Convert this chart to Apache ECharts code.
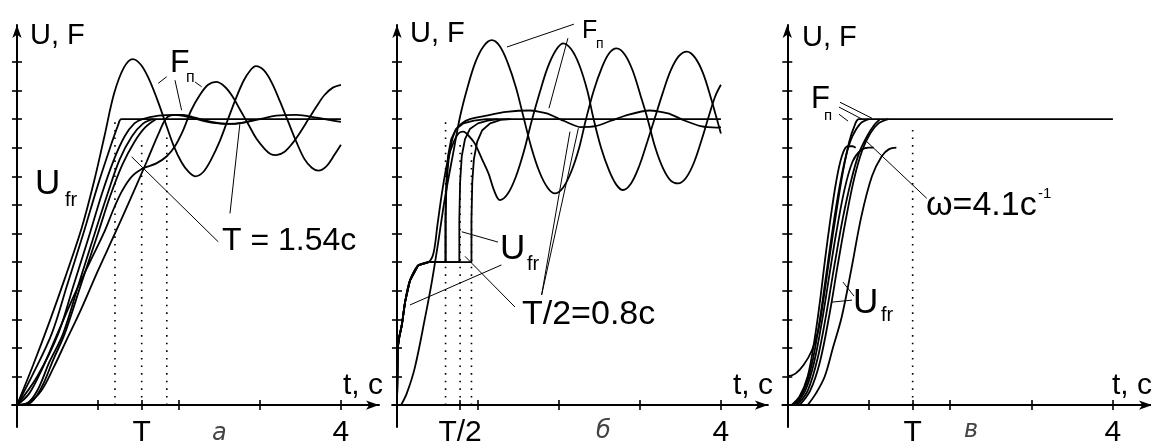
<!DOCTYPE html>
<html><head><meta charset="utf-8">
<script src="https://cdn.jsdelivr.net/npm/echarts@6/dist/echarts.min.js"></script>
<style>html,body{margin:0;padding:0;background:#fff}#c{width:1151px;height:442px}</style>
</head><body><div id="c"></div>
<script>
// ---------- tick / label arrays ----------
const yTicks = [1,2,3,4,5,6,7,8,9,10,11,12];
const xTicksA = [1,1.54,2,3,4];   const xLabValA = [1.54,4]; const xLabTxtA = ['T','4'];
const xTicksB = [0.78,1,2,3,4];   const xLabValB = [0.78,4]; const xLabTxtB = ['T/2','4'];
const xTicksC = [1,1.54,2,3,4];   const xLabValC = [1.54,4]; const xLabTxtC = ['T','4'];

// ---------- panel а ----------
const aF1 = [[0,0],[0.2,1.4],[0.4,2.9],[0.6,4.5],[0.8,6.2],[0.95,7.8],[1.08,9.4],[1.2,10.9],[1.32,11.8],[1.43,12.1],[1.53,11.9],[1.63,11.4],[1.73,10.7],[1.83,9.9],[1.93,9.1],[2.03,8.5],[2.12,8.15],[2.2,8.0],[2.3,8.15],[2.4,8.6],[2.5,9.2],[2.6,9.95],[2.7,10.7],[2.8,11.35],[2.88,11.7],[2.95,11.85],[3.05,11.7],[3.15,11.25],[3.25,10.6],[3.35,9.9],[3.45,9.2],[3.55,8.6],[3.64,8.3],[3.72,8.2],[3.82,8.35],[3.92,8.75],[4.0,9.1]];
const aF2 = [[0,0],[0.15,0.4],[0.3,1.2],[0.5,2.5],[0.7,3.8],[0.9,5.0],[1.07,6.0],[1.2,6.9],[1.3,7.5],[1.42,8.0],[1.56,8.28],[1.72,8.45],[1.85,8.7],[1.95,9.05],[2.05,9.6],[2.15,10.3],[2.26,10.85],[2.36,11.2],[2.46,11.3],[2.56,11.15],[2.66,10.8],[2.76,10.3],[2.86,9.8],[2.96,9.3],[3.06,8.95],[3.13,8.78],[3.2,8.74],[3.3,8.85],[3.4,9.15],[3.5,9.55],[3.6,10.0],[3.7,10.45],[3.8,10.85],[3.9,11.1],[4.0,11.2]];
const aU1 = [[0,0],[0.2,1.1],[0.43,2.5],[0.62,4.2],[0.82,6.0],[1.0,7.7],[1.15,9.0],[1.25,9.8],[1.29,10.0],[4.0,10.0]];
const aU2 = [[0,0],[0.25,1.0],[0.51,2.5],[0.7,4.2],[0.9,6.0],[1.05,7.4],[1.2,8.6],[1.33,9.4],[1.45,9.85],[1.55,10.0],[1.75,10.12],[1.95,10.15],[2.15,10.05],[2.4,9.88],[2.65,9.83],[2.9,9.95]];
const aU3 = [[0,0],[0.12,0.05],[0.25,0.5],[0.4,1.5],[0.57,2.5],[0.77,4.3],[0.96,6.0],[1.12,7.4],[1.27,8.6],[1.42,9.4],[1.56,9.85],[1.68,10.0]];
const aU4 = [[0,0],[0.15,0.05],[0.3,0.6],[0.45,1.6],[0.59,2.5],[0.8,4.3],[1.0,6.0],[1.15,7.3],[1.3,8.4],[1.45,9.2],[1.58,9.7],[1.72,10.0]];
const aU5 = [[0,0],[0.15,0.1],[0.3,0.5],[0.45,1.3],[0.6,2.2],[0.8,3.4],[1.0,4.7],[1.21,6.0],[1.4,7.2],[1.6,8.5],[1.75,9.5],[1.85,10.05],[1.95,10.15],[2.05,10.15],[2.2,10.05],[2.4,9.9],[2.6,9.83],[2.8,9.88],[3.0,10.0],[3.2,10.12],[3.45,10.15],[3.7,10.05],[3.9,9.95],[4.0,9.9]];
const aDots = [[[1.21,0],[1.21,10]],[[1.54,0],[1.54,9.3]],[[1.85,0],[1.85,9.5]]];
const aLeaders = [[[1.744,11.25],[1.848,11.48]],[[1.951,11.36],[2.033,10.31]],[[2.198,11.3],[2.28,11.13]],[[1.416,8.68],[2.485,5.71]],[[2.63,6.7],[2.753,9.85]]];

// ---------- panel б ----------
const bUstart = [[0,0],[0.005,1.0],[0.01,2.0],[0.03,2.4],[0.06,2.8],[0.1,3.6],[0.16,4.35],[0.26,4.88],[0.39,5.0]];
const bU1tail = [[0.6,5.0],[0.6,6.5],[0.61,7.8],[0.63,8.7],[0.67,9.3],[0.73,9.65],[0.82,9.85],[0.95,9.95],[1.1,10.0],[4.0,10.0]];
const bU2tail = [[0.77,5.0],[0.77,6.5],[0.78,7.8],[0.8,8.7],[0.84,9.3],[0.9,9.65],[1.0,9.85],[1.12,9.95],[1.25,10.0]];
const bU3tail = [[0.92,5.0],[0.92,6.5],[0.93,7.8],[0.95,8.6],[0.99,9.2],[1.05,9.6],[1.15,9.85],[1.28,9.97],[1.4,10.0]];
const bStail = [[0.6,5.0],[0.6,6.5],[0.62,8.0],[0.66,9.0],[0.72,9.6],[0.8,9.85],[0.9,10.0],[1.1,10.12],[1.35,10.25],[1.64,10.3],[1.85,10.2],[2.05,9.95],[2.26,9.72],[2.45,9.75],[2.65,9.95],[2.85,10.15],[3.12,10.3],[3.35,10.2],[3.55,9.95],[3.75,9.75],[3.95,9.7],[4.0,9.72]];
const bP = [[0.05,0],[0.12,0.4],[0.22,1.3],[0.35,3.1],[0.43,4.3],[0.51,5.7],[0.59,7.2],[0.7,8.9],[0.78,10.1],[0.87,11.1],[0.97,12.0],[1.07,12.55],[1.17,12.76],[1.27,12.55],[1.37,11.95],[1.47,11.1],[1.56,10.1],[1.66,9.0],[1.76,8.15],[1.86,7.6],[1.95,7.4],[2.05,7.6],[2.15,8.15],[2.25,9.0],[2.33,9.95],[2.43,11.0],[2.53,11.8],[2.62,12.3],[2.71,12.47],[2.81,12.27],[2.91,11.7],[3.01,10.8],[3.09,10.05],[3.19,9.0],[3.29,8.25],[3.38,7.85],[3.47,7.75],[3.57,7.95],[3.67,8.5],[3.77,9.35],[3.85,10.1],[3.93,10.8],[4.0,11.2]];
const bQtail = [[0.45,5.3],[0.5,6.3],[0.56,7.5],[0.63,8.6],[0.7,9.2],[0.76,9.5],[0.82,9.56],[0.89,9.4],[0.96,9.15],[1.05,8.6],[1.13,8.1],[1.2,7.5],[1.27,7.17],[1.37,7.4],[1.47,8.0],[1.57,8.9],[1.66,9.9],[1.76,10.9],[1.86,11.8],[1.96,12.4],[2.05,12.65],[2.15,12.45],[2.25,11.9],[2.35,11.0],[2.42,10.1],[2.52,9.0],[2.62,8.2],[2.71,7.7],[2.79,7.52],[2.89,7.75],[2.99,8.35],[3.09,9.2],[3.18,10.0],[3.28,10.9],[3.38,11.7],[3.48,12.2],[3.58,12.36],[3.68,12.15],[3.78,11.6],[3.88,10.7],[3.95,10.0],[4.0,9.5]];
const bDots = [[[0.6,0],[0.6,10]],[[0.78,0],[0.78,9.3]],[[0.92,0],[0.92,9.3]]];
const bLeaders = [[[2.185,13.32],[1.358,12.52]],[[2.111,12.83],[1.877,10.38]],[[1.786,3.85],[2.136,9.56]],[[1.786,3.85],[2.24,9.68]],[[1.457,3.43],[0.84,5.2]],[[1.247,5.7],[0.8,6.06]],[[1.29,4.9],[0.16,3.5]]];

// ---------- panel в ----------
const cC1 = [[0,1.0],[0.1,1.1],[0.2,1.4],[0.3,1.9],[0.38,2.6],[0.45,3.8],[0.52,5.2],[0.6,6.7],[0.68,8.1],[0.76,9.2],[0.83,9.8],[0.88,10.0],[4.0,10.0]];
const cC2 = [[0.05,0],[0.15,0.3],[0.25,1.0],[0.33,2.2],[0.4,3.6],[0.46,5.0],[0.53,6.5],[0.6,7.8],[0.67,8.7],[0.74,9.05],[0.8,9.05],[0.84,9.0]];
const cC3 = [[0.08,0],[0.2,0.5],[0.3,1.4],[0.4,3.0],[0.48,4.6],[0.56,6.2],[0.64,7.6],[0.72,8.7],[0.8,9.4],[0.9,9.85],[1.0,10.0]];
const cC4 = [[0.1,0],[0.22,0.5],[0.33,1.5],[0.43,3.0],[0.52,4.6],[0.6,6.0],[0.7,7.5],[0.8,8.5],[0.9,8.9],[1.0,9.0],[1.06,9.0]];
const cC5 = [[0.12,0],[0.25,0.5],[0.37,1.6],[0.48,3.2],[0.58,4.9],[0.68,6.5],[0.78,7.8],[0.88,8.8],[0.98,9.4],[1.07,9.8],[1.14,10.0]];
const cC6 = [[0.15,0],[0.28,0.5],[0.4,1.5],[0.52,3.2],[0.62,4.9],[0.72,6.5],[0.82,7.9],[0.92,8.9],[1.02,9.5],[1.12,9.85],[1.24,10.0]];
const cC7 = [[0.25,0],[0.35,0.4],[0.46,1.0],[0.56,2.0],[0.67,3.1],[0.79,4.8],[0.91,6.6],[1.04,8.0],[1.16,8.7],[1.25,8.95],[1.34,9.0]];
const cDots = [[[1.54,0],[1.54,9.7]]];
const cLeaders = [[[0.647,10.59],[1.04,10.03]],[[0.635,10.42],[0.918,10.0]],[[0.635,10.17],[0.746,9.93]],[[0.955,9.27],[1.713,7.23]],[[0.82,3.81],[0.684,4.3]],[[0.795,3.67],[0.549,3.6]]];

// ---------- layout ----------
const FONT = '"Liberation Sans", Arial, sans-serif';
const grids = [
  {left: 12.1, top: 25, width: 366.9, height: 402.1},
  {left: 392.1, top: 25, width: 375.8, height: 402.1},
  {left: 782.4, top: 25, width: 369.6, height: 402.1}
];
const xMax = [4.47, 4.58, 4.48];
const ticks = [[xTicksA, xLabValA, xLabTxtA],[xTicksB, xLabValB, xLabTxtB],[xTicksC, xLabValC, xLabTxtC]];

const xAxes = [], yAxes = [];
for (let k = 0; k < 2; k++) {
  for (let i = 0; i < 3; i++) {
    const tv = ticks[i][0];
    xAxes.push({
      type: 'value', gridIndex: i, min: -0.06, max: xMax[i], position: 'bottom',
      axisLine: k === 0 ? {show: true, onZero: true, symbol: ['none', 'arrow'], symbolSize: [7, 13], lineStyle: {color: '#000', width: 2}} : {show: false, onZero: true},
      splitLine: {show: false},
      axisTick: {show: true, inside: k === 1, length: 5, customValues: tv, lineStyle: {color: '#000', width: 1.6}},
      axisLabel: {show: false}
    });
    yAxes.push({
      type: 'value', gridIndex: i, min: -0.77, max: 13.29, position: 'left',
      axisLine: k === 0 ? {show: true, onZero: true, symbol: ['none', 'arrow'], symbolSize: [7, 13], lineStyle: {color: '#000', width: 2}} : {show: false, onZero: true},
      splitLine: {show: false},
      axisTick: {show: true, inside: k === 1, length: 5, customValues: yTicks, lineStyle: {color: '#000', width: 1.6}},
      axisLabel: {show: false}
    });
  }
}

const series = [];
function curve(g, data, smooth) {
  series.push({type: 'line', xAxisIndex: g, yAxisIndex: g, data: data, showSymbol: false, symbol: 'none',
    smooth: smooth === undefined ? 0.35 : smooth, clip: false, silent: true,
    lineStyle: {color: '#000', width: 1.8}});
}
function segs(g, list, style) {
  list.forEach(s => series.push({type: 'line', xAxisIndex: g, yAxisIndex: g, data: s, showSymbol: false, symbol: 'none',
    clip: false, silent: true, lineStyle: style}));
}
const dotStyle = {color: '#000', width: 1.6, type: [1.6, 6]};
const leadStyle = {color: '#000', width: 1};

[aF1, aF2, aU1, aU2, aU3, aU4, aU5].forEach(d => curve(0, d));
segs(0, aDots, dotStyle); segs(0, aLeaders, leadStyle);

curve(1, bP); curve(1, bUstart.concat(bQtail));
curve(1, bUstart.concat(bU1tail), false); curve(1, bUstart.concat(bU2tail), false);
curve(1, bUstart.concat(bU3tail), false); curve(1, bUstart.concat(bStail), 0.2);
segs(1, bDots, dotStyle); segs(1, bLeaders, leadStyle);

[cC1, cC2, cC3, cC4, cC5, cC6, cC7].forEach(d => curve(2, d));
segs(2, cDots, dotStyle); segs(2, cLeaders, leadStyle);

function txt(x, y, text, size, align) {
  return {type: 'text', x: x, y: y, silent: true,
    style: {text: text, fill: '#000', font: size + 'px ' + FONT, verticalAlign: 'middle', align: align || 'left'}};
}
function ital(x, y, text, size) {
  return {type: 'text', x: x, y: y, silent: true,
    style: {text: text, fill: '#444', font: 'italic ' + size + 'px "DejaVu Sans", sans-serif', verticalAlign: 'middle', align: 'left'}};
}
const graphic = [
  // panel а
  txt(30, 36, 'U, F', 29), txt(170, 63, 'F', 32), txt(186, 78, 'п', 16),
  txt(35, 184, 'U', 35), txt(65, 200, 'fr', 20), txt(222, 241, 'T = 1.54c', 32),
  txt(343, 386, 't, c', 30), ital(212, 434, 'а', 24),
  // panel б
  txt(410, 34, 'U, F', 29), txt(582, 31, 'F', 25), txt(596, 44, 'п', 14),
  txt(500, 249, 'U', 35), txt(527, 264, 'fr', 20), txt(522, 315, 'T/2=0.8c', 34),
  txt(733, 386, 't, c', 30), ital(596, 432, 'б', 24),
  // panel в
  txt(802, 38, 'U, F', 29), txt(811, 99, 'F', 31), txt(824, 116, 'п', 15),
  txt(926, 206, 'ω=4.1c', 34), txt(1038, 194, '-1', 15),
  txt(853, 303, 'U', 35), txt(881, 315, 'fr', 20),
  txt(1112, 386, 't, c', 30), ital(964, 431, 'в', 24)
];

const chart = echarts.init(document.getElementById('c'), null, {renderer: 'canvas'});
chart.setOption({
  animation: false, backgroundColor: '#fff',
  grid: grids.map(g => Object.assign({outerBoundsMode: 'none', containLabel: false}, g)),
  xAxis: xAxes, yAxis: yAxes, series: series, graphic: graphic
});
// x tick labels placed through the axis scale
ticks.forEach((tk, i) => {
  tk[1].forEach((v, j) => {
    const p = chart.convertToPixel({xAxisIndex: i, yAxisIndex: i}, [v, 0]);
    graphic.push(txt(p[0], p[1] + 28, tk[2][j], 30, 'center'));
  });
});
chart.setOption({graphic: graphic});
</script></body></html>
